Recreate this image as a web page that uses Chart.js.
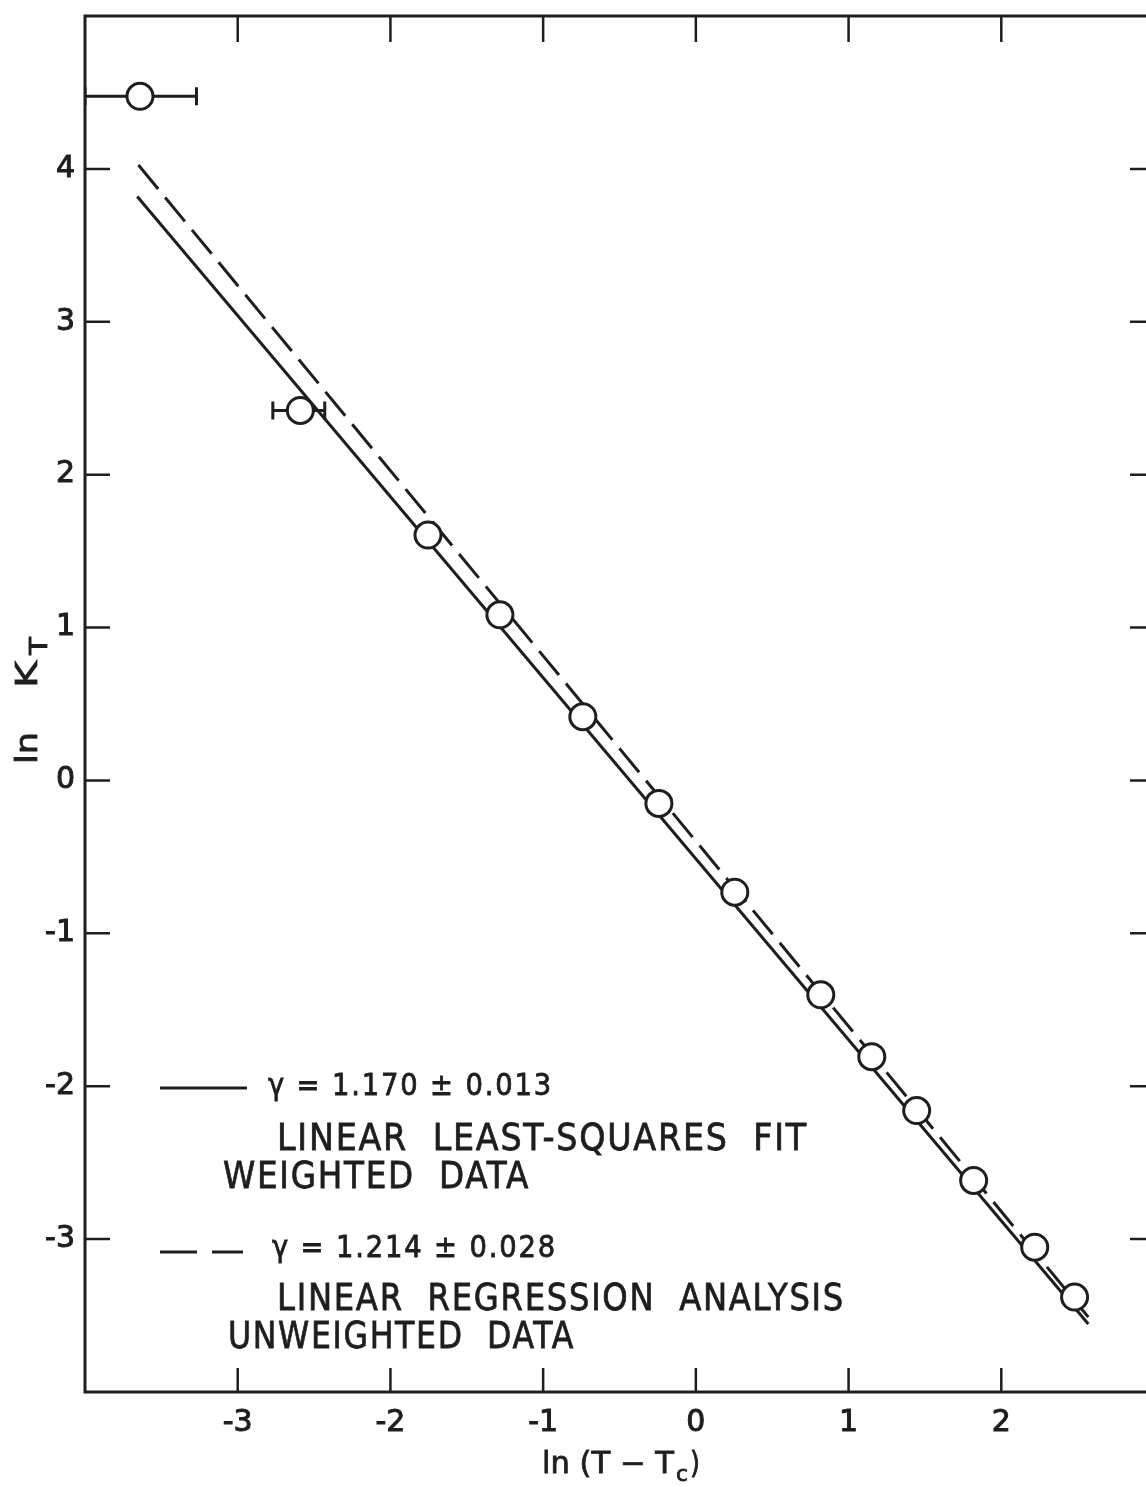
<!DOCTYPE html>
<html>
<head>
<meta charset="utf-8">
<title>ln K_T versus ln (T - Tc)</title>
<script src="https://cdn.jsdelivr.net/npm/chart.js@4.4.1/dist/chart.umd.min.js"></script>
<style>
  html, body { margin: 0; padding: 0; background: #fff; overflow: hidden; }
  #wrap { width: 1170px; height: 1487px; }
</style>
</head>
<body>
<div id="wrap"><canvas id="plot" width="1170" height="1487"></canvas></div>
<script>
// measured points
const lnDT = [-3.64, -2.59, -1.754, -1.283, -0.74, -0.242, 0.255, 0.818, 1.152, 1.446, 1.819, 2.219, 2.48];
const lnKT = [4.475, 2.42, 1.605, 1.083, 0.417, -0.15, -0.731, -1.402, -1.807, -2.159, -2.616, -3.053, -3.379];

// horizontal error bars, only the two points closest to Tc have them
const errLow  = [-4.0, -2.77, null, null, null, null, null, null, null, null, null, null, null];
const errHigh = [-3.27, -2.43, null, null, null, null, null, null, null, null, null, null, null];

// fitted straight lines (end points)
const weightedFitX = [-3.658, 2.57];
const weightedFitY = [3.82, -3.555];
const unweightedFitX = [-3.65, 2.57];
const unweightedFitY = [4.025, -3.51];

const xTicks = [-3, -2, -1, 0, 1, 2];
const yTicks = [-3, -2, -1, 0, 1, 2, 3, 4];

const ink = '#1e1e1e';
const face = 'DejaVu Sans';

const zip = (xs, ys) => xs.map((v, i) => ({ x: v, y: ys[i] }));

// draw a string squeezed or stretched to a given width, lightly stroked
function fitText(ctx, str, x, y, width) {
  const w = ctx.measureText(str).width;
  ctx.save();
  ctx.translate(x, y);
  ctx.scale(width / w, 1);
  ctx.fillText(str, 0, 0);
  ctx.strokeText(str, 0, 0);
  ctx.restore();
}

const errorBars = {
  id: 'errorBars',
  beforeDatasetsDraw(chart) {
    const { ctx, chartArea: a, scales: { x, y } } = chart;
    ctx.save();
    ctx.beginPath();
    ctx.rect(a.left, a.top, a.right - a.left, a.bottom - a.top);
    ctx.clip();
    ctx.strokeStyle = ink;
    ctx.lineWidth = 3;
    ctx.beginPath();
    lnDT.forEach((v, i) => {
      if (errLow[i] === null) return;
      const py = y.getPixelForValue(lnKT[i]);
      const x0 = x.getPixelForValue(errLow[i]);
      const x1 = x.getPixelForValue(errHigh[i]);
      ctx.moveTo(x0, py); ctx.lineTo(x1, py);
      ctx.moveTo(x0, py - 9); ctx.lineTo(x0, py + 9);
      ctx.moveTo(x1, py - 9); ctx.lineTo(x1, py + 9);
    });
    ctx.stroke();
    ctx.restore();
  }
};

const frame = {
  id: 'frame',
  afterDraw(chart) {
    const { ctx, chartArea: a, scales: { x, y } } = chart;
    ctx.save();
    ctx.strokeStyle = ink;
    ctx.lineWidth = 3;
    ctx.strokeRect(a.left, a.top, a.right - a.left, a.bottom - a.top);
    ctx.lineWidth = 2.5;
    ctx.beginPath();
    x.ticks.forEach(t => {
      const px = x.getPixelForValue(t.value);
      ctx.moveTo(px, a.top); ctx.lineTo(px, a.top + 26);
      ctx.moveTo(px, a.bottom); ctx.lineTo(px, a.bottom - 24);
    });
    y.ticks.forEach(t => {
      const py = y.getPixelForValue(t.value);
      ctx.moveTo(a.left, py); ctx.lineTo(a.left + 25, py);
      ctx.moveTo(a.right, py); ctx.lineTo(a.right - 24, py);
    });
    ctx.stroke();
    ctx.restore();
  }
};

// key in the lower left corner plus the two axis titles
const annotations = {
  id: 'annotations',
  afterDraw(chart) {
    const { ctx, chartArea: a } = chart;
    ctx.save();
    ctx.fillStyle = ink;
    ctx.strokeStyle = ink;
    ctx.textAlign = 'left';
    ctx.textBaseline = 'alphabetic';

    // line samples
    ctx.lineWidth = 3;
    ctx.beginPath();
    ctx.moveTo(a.left + 75, 1088); ctx.lineTo(a.left + 162, 1088);
    ctx.stroke();
    ctx.setLineDash([37, 15]);
    ctx.beginPath();
    ctx.moveTo(a.left + 75, 1252); ctx.lineTo(a.left + 158, 1252);
    ctx.stroke();
    ctx.setLineDash([]);

    ctx.lineWidth = 0.8;
    ctx.letterSpacing = '2px';
    ctx.font = `30px "${face}"`;
    fitText(ctx, 'γ = 1.170 ± 0.013', a.left + 183, 1095, 285);
    fitText(ctx, 'γ = 1.214 ± 0.028', a.left + 187, 1257, 285);
    ctx.font = `38px "${face}"`;
    ctx.letterSpacing = '2px';
    ctx.wordSpacing = '14px';
    fitText(ctx, 'LINEAR LEAST-SQUARES FIT', a.left + 192, 1150, 531);
    fitText(ctx, 'WEIGHTED DATA', a.left + 138, 1188, 307);
    fitText(ctx, 'LINEAR REGRESSION ANALYSIS', a.left + 192, 1310, 568);
    fitText(ctx, 'UNWEIGHTED DATA', a.left + 143, 1348, 347);
    ctx.letterSpacing = '0px';
    ctx.wordSpacing = '0px';

    // x title: ln (T − Tc)
    ctx.font = `30px "${face}"`;
    fitText(ctx, 'ln (T − T', 542, 1473, 132);
    ctx.font = `22px "${face}"`;
    fitText(ctx, 'c', 676, 1481, 12);
    ctx.font = `30px "${face}"`;
    fitText(ctx, ')', 690, 1473, 10);

    // y title: ln KT, rotated to read upwards
    ctx.translate(37, 764);
    ctx.rotate(-Math.PI / 2);
    ctx.font = `31px "${face}"`;
    fitText(ctx, 'ln', 0, 0, 32);
    fitText(ctx, 'K', 76, 0, 27);
    ctx.font = `25px "${face}"`;
    fitText(ctx, 'T', 109, 10, 18);
    ctx.restore();
  }
};

const tickFont = {
  color: ink,
  font: { family: face, size: 30 },
  textStrokeColor: ink,
  textStrokeWidth: 1,
  autoSkip: false,
  callback: v => String(v)
};

new Chart(document.getElementById('plot'), {
  type: 'scatter',
  data: {
    datasets: [
      {
        label: 'ln KT',
        data: zip(lnDT, lnKT),
        order: 0,
        pointRadius: 13,
        pointBorderWidth: 3,
        pointBackgroundColor: '#fff',
        pointBorderColor: ink
      },
      {
        label: 'weighted least-squares fit',
        data: zip(weightedFitX, weightedFitY),
        order: 1,
        showLine: true,
        borderColor: ink,
        borderWidth: 3,
        pointRadius: 0
      },
      {
        label: 'unweighted regression',
        data: zip(unweightedFitX, unweightedFitY),
        order: 2,
        showLine: true,
        borderColor: ink,
        borderWidth: 3,
        borderDash: [31, 11],
        pointRadius: 0
      }
    ]
  },
  options: {
    responsive: false,
    devicePixelRatio: 1,
    animation: false,
    events: [],
    layout: { padding: { top: 12, right: 7, left: 0, bottom: 0 } },
    plugins: { legend: { display: false }, tooltip: { enabled: false } },
    scales: {
      x: {
        type: 'linear',
        min: -4,
        max: 3,
        afterBuildTicks: s => { s.ticks = xTicks.map(v => ({ value: v })); },
        afterFit: s => { s.height = 95; s.paddingLeft = 0; s.paddingRight = 0; },
        grid: { display: false, drawTicks: false },
        border: { display: false },
        ticks: { ...tickFont, padding: 13, maxRotation: 0 }
      },
      y: {
        type: 'linear',
        min: -4,
        max: 5,
        afterBuildTicks: s => { s.ticks = yTicks.map(v => ({ value: v })); },
        afterFit: s => { s.width = 85; s.paddingTop = 0; s.paddingBottom = 0; },
        grid: { display: false, drawTicks: false },
        border: { display: false },
        ticks: { ...tickFont, padding: 10 }
      }
    }
  },
  plugins: [errorBars, frame, annotations]
});
</script>
</body>
</html>
